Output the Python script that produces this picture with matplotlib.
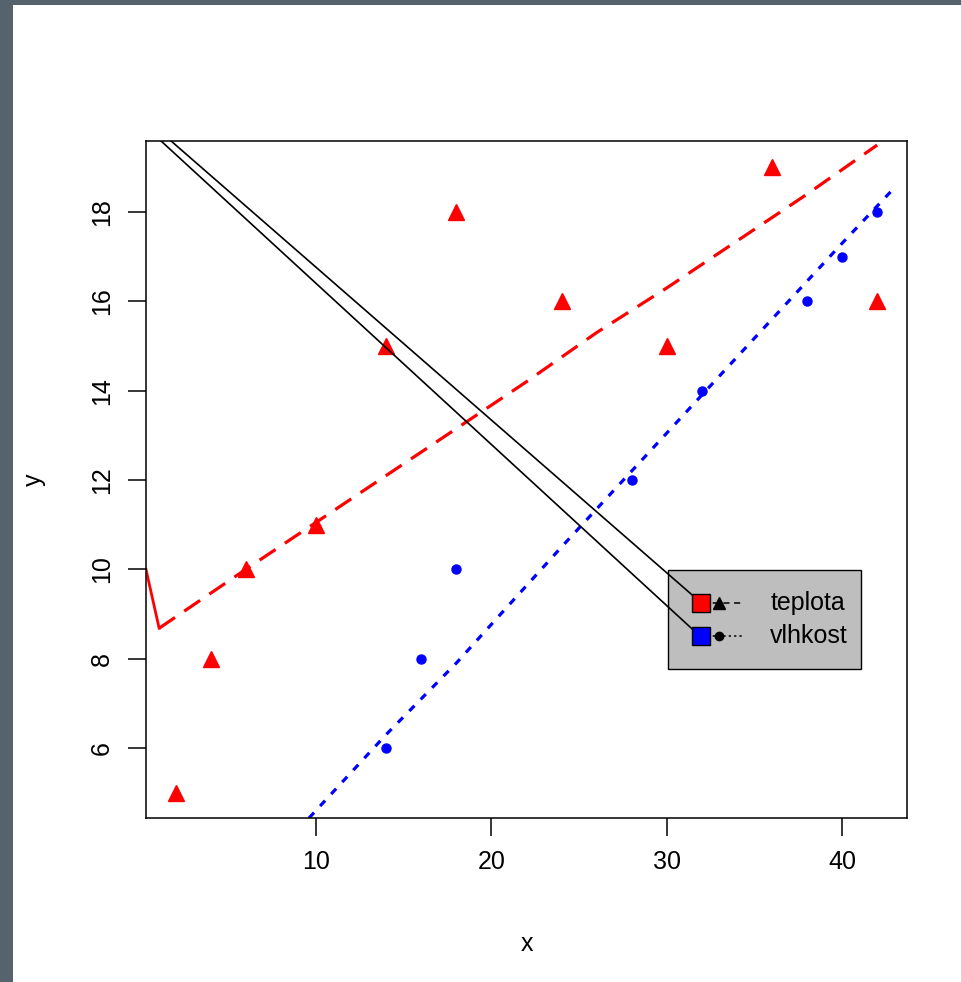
import matplotlib
matplotlib.use("Agg")
import matplotlib.pyplot as plt
from matplotlib.patches import Rectangle

plt.rcParams['font.family'] = ['Liberation Sans', 'DejaVu Sans']

# data
teplota_x = [2, 4, 6, 10, 14, 18, 24, 30, 36, 42]
teplota_y = [5, 8, 10, 11, 15, 18, 16, 15, 19, 16]
vlhkost_x = [14, 16, 18, 28, 32, 38, 40, 42]
vlhkost_y = [6, 8, 10, 12, 14, 16, 17, 18]

# fitted curves
teplota_fit_x = [1.05, 6, 10, 14, 18, 22, 26, 30, 34, 38, 42]
teplota_fit_y = [8.68, 10.0, 11.05, 12.1, 13.15, 14.2, 15.3, 16.3, 17.35, 18.4, 19.5]
vlhkost_fit_x = [9.6, 14, 18, 24, 28, 32, 36, 40, 43]
vlhkost_fit_y = [4.43, 6.3, 7.9, 10.5, 12.2, 13.9, 15.6, 17.3, 18.55]

# short red solid segment at the left edge
red_seg_x = [0.3, 1.05]
red_seg_y = [10.0, 8.68]

# black lines from top left to the legend keys
black1_x = [1.12, 31.9]
black1_y = [19.8, 9.27]
black2_x = [0.58, 31.9]
black2_y = [19.8, 8.5]

xticks = [10, 20, 30, 40]
yticks = [6, 8, 10, 12, 14, 16, 18]
labels = ['teplota', 'vlhkost']

fig = plt.figure(figsize=(9.61, 9.82), dpi=100, facecolor='#56636d')
fig.patches.append(Rectangle((13 / 961, 0), 1, (982 - 5) / 982, transform=fig.transFigure,
                             facecolor='white', edgecolor='none', zorder=-1))

ax = fig.add_axes([0.1519, 0.167, 0.7919, 0.6894])
ax.set_xlim(0.30, 43.7)
ax.set_ylim(4.43, 19.59)

ax.plot(teplota_x, teplota_y, linestyle='none', marker='^', ms=11, color='red', mec='red', zorder=3)
ax.plot(vlhkost_x, vlhkost_y, linestyle='none', marker='o', ms=6.5, color='blue', mec='blue', zorder=3)
ax.plot(teplota_fit_x, teplota_fit_y, color='red', lw=2.3, dashes=(6, 3.5), zorder=2)
ax.plot(vlhkost_fit_x, vlhkost_fit_y, color='blue', lw=2.3, dashes=(2.3, 2.8), zorder=2)
ax.plot(red_seg_x, red_seg_y, color='red', lw=2, zorder=2)
ax.plot(black1_x, black1_y, color='black', lw=1.2, zorder=5)
ax.plot(black2_x, black2_y, color='black', lw=1.2, zorder=5)

# legend drawn by hand, R style
ax.add_patch(Rectangle((30.05, 7.77), 11.05, 2.21, facecolor='#bebebe', edgecolor='black', lw=1, zorder=4))
key_y = [9.24, 8.5]
fills = ['red', 'blue']
marks = ['^', 'o']
styles = [(4, 3), (1.5, 2)]
for ky, fc, mk, st, lab in zip(key_y, fills, marks, styles, labels):
    ax.plot([32.0, 34.4], [ky, ky], color='black', lw=1.1, dashes=st, zorder=5)
    ax.plot([31.96], [ky], marker='s', ms=13, color=fc, mec='black', mew=1, zorder=6)
    ax.plot([33.0], [ky], marker=mk, ms=8 if mk == '^' else 6, color='black', zorder=6)
    ax.text(35.9, ky, lab, fontsize=18, va='center', ha='left', zorder=7)

ax.set_xticks(xticks)
ax.set_yticks(yticks)
ax.tick_params(axis='both', length=13, width=1.1, labelsize=18, pad=10)
plt.setp(ax.get_yticklabels(), rotation=90, va='center')
for s in ax.spines.values():
    s.set_linewidth(1.1)
ax.set_xlabel('x', fontsize=18, labelpad=42)
ax.set_ylabel('y', fontsize=18, labelpad=32)

fig.savefig('out.png', dpi=100, facecolor=fig.get_facecolor())
